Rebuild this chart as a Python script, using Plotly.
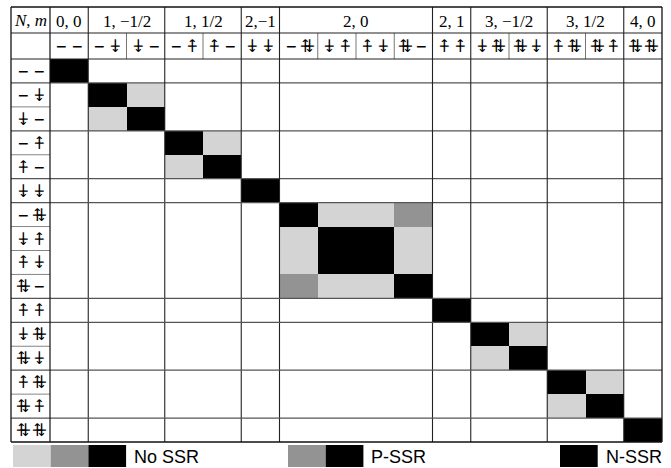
import plotly.graph_objects as go

# ---------------- data ----------------
block_names = ["0, 0", "1, −1/2", "1, 1/2", "2,−1", "2, 0", "2, 1", "3, −1/2", "3, 1/2", "4, 0"]
block_sizes = [1, 2, 2, 1, 4, 1, 2, 2, 1]
# orbital occupations of each state: 0 empty, u up, d down, 2 double
state_orbitals = [("0", "0"), ("0", "d"), ("d", "0"), ("0", "u"), ("u", "0"), ("d", "d"),
                  ("0", "2"), ("d", "u"), ("u", "d"), ("2", "0"), ("u", "u"),
                  ("d", "2"), ("2", "d"), ("u", "2"), ("2", "u"), ("2", "2")]
# 0 = zero, 1 = light (No SSR), 2 = mid (P-SSR), 3 = black (N-SSR)
levels = [
    [3, 0, 0, 0, 0, 0, 0, 0, 0, 0, 0, 0, 0, 0, 0, 0],
    [0, 3, 1, 0, 0, 0, 0, 0, 0, 0, 0, 0, 0, 0, 0, 0],
    [0, 1, 3, 0, 0, 0, 0, 0, 0, 0, 0, 0, 0, 0, 0, 0],
    [0, 0, 0, 3, 1, 0, 0, 0, 0, 0, 0, 0, 0, 0, 0, 0],
    [0, 0, 0, 1, 3, 0, 0, 0, 0, 0, 0, 0, 0, 0, 0, 0],
    [0, 0, 0, 0, 0, 3, 0, 0, 0, 0, 0, 0, 0, 0, 0, 0],
    [0, 0, 0, 0, 0, 0, 3, 1, 1, 2, 0, 0, 0, 0, 0, 0],
    [0, 0, 0, 0, 0, 0, 1, 3, 3, 1, 0, 0, 0, 0, 0, 0],
    [0, 0, 0, 0, 0, 0, 1, 3, 3, 1, 0, 0, 0, 0, 0, 0],
    [0, 0, 0, 0, 0, 0, 2, 1, 1, 3, 0, 0, 0, 0, 0, 0],
    [0, 0, 0, 0, 0, 0, 0, 0, 0, 0, 3, 0, 0, 0, 0, 0],
    [0, 0, 0, 0, 0, 0, 0, 0, 0, 0, 0, 3, 1, 0, 0, 0],
    [0, 0, 0, 0, 0, 0, 0, 0, 0, 0, 0, 1, 3, 0, 0, 0],
    [0, 0, 0, 0, 0, 0, 0, 0, 0, 0, 0, 0, 0, 3, 1, 0],
    [0, 0, 0, 0, 0, 0, 0, 0, 0, 0, 0, 0, 0, 1, 3, 0],
    [0, 0, 0, 0, 0, 0, 0, 0, 0, 0, 0, 0, 0, 0, 0, 3],
]
level_colors = ["#ffffff", "#d4d4d4", "#939393", "#000000"]
legend_labels = ["No SSR", "P-SSR", "N-SSR"]
legend_levels = [[1, 2, 3], [2, 3], [3]]

# ---------------- layout constants (pixels) ----------------
W, H = 671, 468
X_LEFT, X_LABEL, X_RIGHT = 11, 50, 662
Y_TOP, Y_H1, Y_H2, Y_BOT = 7, 33, 59, 442
n = len(state_orbitals)
dx = (X_RIGHT - X_LABEL) / n
dy = (Y_BOT - Y_H2) / n

fig = go.Figure()
colorscale = [[i / (len(level_colors) - 1), c] for i, c in enumerate(level_colors)]
fig.add_trace(go.Heatmap(
    z=levels, x0=X_LABEL + dx / 2, dx=dx, y0=Y_H2 + dy / 2, dy=dy,
    zmin=0, zmax=len(level_colors) - 1, colorscale=colorscale,
    showscale=False, hoverinfo="skip", xgap=0, ygap=0))

shapes = []
def line(x0, y0, x1, y1, color="#222", width=1.1):
    shapes.append(dict(type="line", xref="x", yref="y", x0=x0, y0=y0, x1=x1, y1=y1,
                       line=dict(color=color, width=width), layer="above"))

# block boundaries
bounds = [0]
for s in block_sizes:
    bounds.append(bounds[-1] + s)

# inner lines: header sub-columns and label-column rows
for i in range(1, n):
    if i not in bounds:
        xx = X_LABEL + i * dx
        line(xx, Y_H1, xx, Y_H2, color="#666", width=0.9)
        yy = Y_H2 + i * dy
        line(X_LEFT, yy, X_LABEL, yy, color="#777", width=0.9)

# block lines
for b in bounds[1:-1]:
    xx = X_LABEL + b * dx
    line(xx, Y_TOP, xx, Y_BOT, color="#222", width=1.1)
    yy = Y_H2 + b * dy
    line(X_LEFT, yy, X_RIGHT, yy, color="#555", width=1.2)
line(X_LABEL, Y_TOP, X_LABEL, Y_BOT, color="#111", width=1.2)
line(X_LEFT, Y_H1, X_RIGHT, Y_H1, color="#222", width=1.1)
line(X_LEFT, Y_H2, X_RIGHT, Y_H2, color="#222", width=1.2)
# outer frame
line(X_LEFT, Y_TOP, X_RIGHT, Y_TOP, color="#111", width=1.3)
line(X_LEFT, Y_BOT, X_RIGHT, Y_BOT, color="#111", width=1.3)
line(X_LEFT, Y_TOP, X_LEFT, Y_BOT, color="#111", width=1.3)
line(X_RIGHT, Y_TOP, X_RIGHT, Y_BOT, color="#111", width=1.3)

annotations = []
SERIF = "Liberation Serif, Times New Roman, serif"
SYMF = "DejaVu Sans Mono, DejaVu Sans, monospace"

def text(x, y, s, size=17, family=SERIF, color="black", xanchor="center"):
    annotations.append(dict(x=x, y=y, xref="x", yref="y", text=s, showarrow=False,
                            xanchor=xanchor, yanchor="middle",
                            font=dict(size=size, family=family, color=color)))

GLYPH = {"0": "−", "u": "⍏", "d": "⍖",
         "2": '<span style="letter-spacing:-6px">⍏⍖</span>'}
def orbital(x, y, kind):
    text(x, y, GLYPH[kind], size=17, family=SYMF)

def state_label(xc, yc, orbs):
    orbital(xc - 8, yc, orbs[0])
    orbital(xc + 8, yc, orbs[1])

# header
text((X_LEFT + X_LABEL) / 2, (Y_TOP + Y_H1) / 2, "<i>N</i>, <i>m</i>")
for k, name in enumerate(block_names):
    xc = X_LABEL + (bounds[k] + bounds[k + 1]) / 2 * dx
    text(xc, (Y_TOP + Y_H1) / 2 + 1, name)
for i, orbs in enumerate(state_orbitals):
    state_label(X_LABEL + (i + 0.5) * dx, (Y_H1 + Y_H2) / 2, orbs)
    state_label((X_LEFT + X_LABEL) / 2, Y_H2 + (i + 0.5) * dy, orbs)

# legend
LEG_X = [13, 288, 560]
BOX_W = 37.7
LEG_Y0, LEG_Y1 = 445, 467
for lab, lvls, x0 in zip(legend_labels, legend_levels, LEG_X):
    for j, lv in enumerate(lvls):
        shapes.append(dict(type="rect", xref="x", yref="y",
                           x0=x0 + j * BOX_W, x1=x0 + (j + 1) * BOX_W, y0=LEG_Y0, y1=LEG_Y1,
                           fillcolor=level_colors[lv], line=dict(width=0)))
    text(x0 + len(lvls) * BOX_W + 6, (LEG_Y0 + LEG_Y1) / 2 + 1, lab, size=18,
         family="Liberation Sans, Arial, sans-serif", xanchor="left")

fig.update_layout(
    width=W, height=H, margin=dict(l=0, r=0, t=0, b=0),
    paper_bgcolor="white", plot_bgcolor="white",
    xaxis=dict(range=[0, W], visible=False, fixedrange=True),
    yaxis=dict(range=[H, 0], visible=False, fixedrange=True),
    shapes=shapes, annotations=annotations, showlegend=False,
)
fig.write_html("out.html", config={"displayModeBar": False},
               post_script="document.body.style.margin='0';document.body.style.overflow='hidden';")
